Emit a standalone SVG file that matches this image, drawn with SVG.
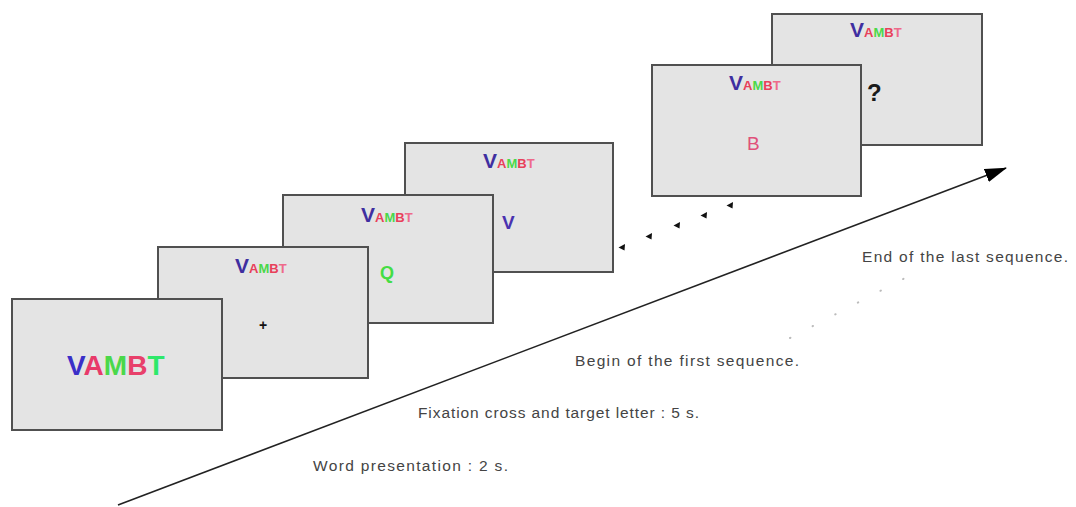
<svg xmlns="http://www.w3.org/2000/svg" width="1076" height="507" viewBox="0 0 1076 507">
<style>
.box{fill:#e4e4e4;stroke:#505050;stroke-width:2}
.hv{font-family:"Liberation Sans",Arial,sans-serif;font-weight:bold;font-size:21px;fill:#3f2fa0}
.hs{font-family:"Liberation Sans",Arial,sans-serif;font-weight:bold;font-size:13px}
.big{font-family:"Liberation Sans",Arial,sans-serif;font-weight:bold;font-size:28px}
.lbl{font-family:"Liberation Sans",Arial,sans-serif;font-size:15.5px;fill:#444}
.r{fill:#e8405a}.g{fill:#4ad84a}.p{fill:#ee6a8a}
</style>
<defs>
<marker id="ah" viewBox="0 0 22 14" refX="21" refY="7" markerWidth="22" markerHeight="14" markerUnits="userSpaceOnUse" orient="auto">
<path d="M0,0 L22,7 L0,14 Z" fill="#000"/>
</marker>
<symbol id="dot" overflow="visible"><path d="M-3.5,0.5 L3,-3 L2.5,3.5 Z" fill="#111"/></symbol>
</defs>
<g id="connectors">
<line x1="118" y1="505" x2="1006" y2="168" stroke="#222" stroke-width="1.6" marker-end="url(#ah)"/>
<line x1="790" y1="338" x2="905" y2="278" stroke="#bbb" stroke-width="2" stroke-linecap="round" stroke-dasharray="0.5 25"/>
<g id="dots">
<use href="#dot" x="622" y="247"/>
<use href="#dot" x="649" y="236"/>
<use href="#dot" x="677" y="225"/>
<use href="#dot" x="704" y="215"/>
<use href="#dot" x="730" y="205"/>
</g>
</g>
<g id="box6">
<rect class="box" x="772" y="14" width="210" height="131"/>
<text x="850" y="37"><tspan class="hv">V</tspan><tspan class="hs r">A</tspan><tspan class="hs g">M</tspan><tspan class="hs r">B</tspan><tspan class="hs p">T</tspan></text>
<text x="867" y="101" font-family="Liberation Sans,Arial,sans-serif" font-weight="bold" font-size="24" fill="#1a1a1a">?</text>
</g>
<g id="box5">
<rect class="box" x="652" y="65" width="209" height="131"/>
<text x="729" y="90"><tspan class="hv">V</tspan><tspan class="hs r">A</tspan><tspan class="hs g">M</tspan><tspan class="hs r">B</tspan><tspan class="hs p">T</tspan></text>
<text x="747" y="150" font-family="Liberation Sans,Arial,sans-serif" font-size="19" fill="#e0507a">B</text>
</g>
<g id="box4">
<rect class="box" x="405" y="143" width="208" height="129"/>
<text x="483" y="168"><tspan class="hv">V</tspan><tspan class="hs r">A</tspan><tspan class="hs g">M</tspan><tspan class="hs r">B</tspan><tspan class="hs p">T</tspan></text>
<text x="502" y="229" font-family="Liberation Sans,Arial,sans-serif" font-weight="bold" font-size="19" fill="#4a32b0">V</text>
</g>
<g id="box3">
<rect class="box" x="283" y="195" width="210" height="128"/>
<text x="361" y="222"><tspan class="hv">V</tspan><tspan class="hs r">A</tspan><tspan class="hs g">M</tspan><tspan class="hs r">B</tspan><tspan class="hs p">T</tspan></text>
<text x="380" y="279" font-family="Liberation Sans,Arial,sans-serif" font-weight="bold" font-size="18" fill="#44dd44">Q</text>
</g>
<g id="box2">
<rect class="box" x="158" y="247" width="210" height="131"/>
<text x="235" y="273"><tspan class="hv">V</tspan><tspan class="hs r">A</tspan><tspan class="hs g">M</tspan><tspan class="hs r">B</tspan><tspan class="hs p">T</tspan></text>
<text x="263" y="330" text-anchor="middle" font-family="Liberation Sans,Arial,sans-serif" font-weight="bold" font-size="14" fill="#111">+</text>
</g>
<g id="box1">
<rect class="box" x="12" y="299" width="210" height="131"/>
<text x="67" y="375" class="big"><tspan fill="#3a2fc8">V</tspan><tspan fill="#e83a6a">A</tspan><tspan fill="#4ad84a">M</tspan><tspan fill="#e8406a">B</tspan><tspan fill="#2ee86a">T</tspan></text>
</g>
<g id="labels">
<text class="lbl" x="862" y="262" textLength="206" lengthAdjust="spacing">End of the last sequence.</text>
<text class="lbl" x="575" y="366" textLength="224" lengthAdjust="spacing">Begin of the first sequence.</text>
<text class="lbl" x="418" y="418" textLength="281" lengthAdjust="spacing">Fixation cross and target letter : 5 s.</text>
<text class="lbl" x="313" y="471" textLength="195" lengthAdjust="spacing">Word presentation : 2 s.</text>
</g>
</svg>
